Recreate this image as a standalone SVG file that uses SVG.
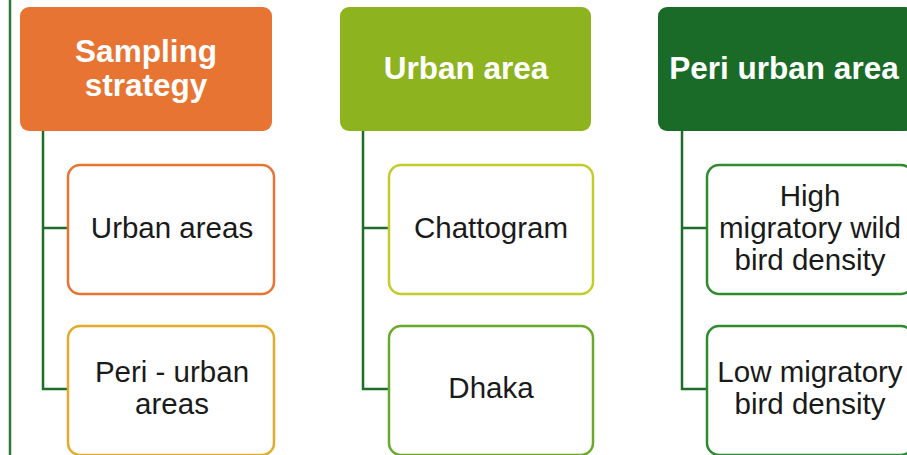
<svg xmlns="http://www.w3.org/2000/svg" width="907" height="455" viewBox="0 0 907 455">
<style>
.hdr{font-family:"Liberation Sans",Arial,sans-serif;font-weight:bold;font-size:31.5px;fill:#fff;text-anchor:middle}
.txt{font-family:"Liberation Sans",Arial,sans-serif;font-size:29.5px;fill:#1a1a1a;text-anchor:middle}
.child{fill:#fff;stroke-width:2.5}
.conn{fill:none;stroke:#1e6e2a;stroke-width:2.5}
</style>
<rect width="907" height="455" fill="#fff"/>
<line x1="10" y1="0" x2="10" y2="455" stroke="#2a7a35" stroke-width="2.5"/>
<g id="connectors">
<path class="conn" d="M43 131 V389 H68 M43 228 H68"/>
<path class="conn" d="M363 131 V389 H389 M363 228 H389"/>
<path class="conn" d="M682 131 V389 H707 M682 228 H707"/>
</g>
<g id="sampling">
<rect x="20" y="7" width="252" height="124" rx="9" fill="#e87434"/>
<text class="hdr" x="146" y="62">Sampling</text>
<text class="hdr" x="146" y="96">strategy</text>
</g>
<g id="urban">
<rect x="340" y="7" width="251" height="124" rx="9" fill="#8db31f"/>
<text class="hdr" x="466" y="79">Urban area</text>
</g>
<g id="periurban">
<rect x="658" y="7" width="256" height="124" rx="9" fill="#1b6b28"/>
<text class="hdr" x="784" y="79">Peri urban area</text>
</g>
<g id="urbanareas">
<rect class="child" x="68" y="165" width="206" height="129" rx="12" stroke="#e87434"/>
<text class="txt" x="172" y="238">Urban areas</text>
</g>
<g id="periurbanareas">
<rect class="child" x="68" y="326" width="206" height="129" rx="12" stroke="#e2ac2a"/>
<text class="txt" x="172" y="382">Peri - urban</text>
<text class="txt" x="172" y="414">areas</text>
</g>
<g id="chattogram">
<rect class="child" x="389" y="165" width="204" height="129" rx="12" stroke="#c3cc2a"/>
<text class="txt" x="491" y="238">Chattogram</text>
</g>
<g id="dhaka">
<rect class="child" x="389" y="326" width="204" height="129" rx="12" stroke="#6aaa2a"/>
<text class="txt" x="491" y="398">Dhaka</text>
</g>
<g id="highdensity">
<rect class="child" x="707" y="165" width="206" height="129" rx="12" stroke="#2e8b2e"/>
<text class="txt" x="810" y="206">High</text>
<text class="txt" x="810" y="238">migratory wild</text>
<text class="txt" x="810" y="270">bird density</text>
</g>
<g id="lowdensity">
<rect class="child" x="707" y="326" width="206" height="129" rx="12" stroke="#2e8b2e"/>
<text class="txt" x="810" y="382">Low migratory</text>
<text class="txt" x="810" y="414">bird density</text>
</g>
</svg>
